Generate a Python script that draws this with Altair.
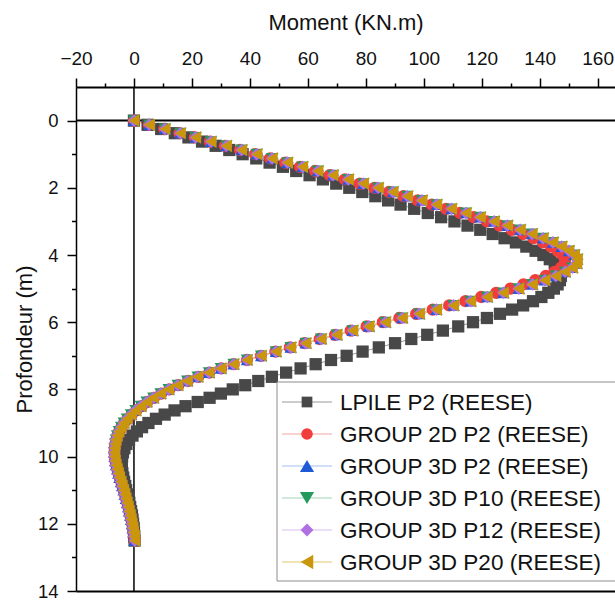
import altair as alt
import pandas as pd

FONT = "Liberation Sans"

# Depth (m) of each computed point along the pile
DEPTH = [
    0.0, 0.125, 0.25, 0.375, 0.5, 0.625, 0.75, 0.875,
    1.0, 1.125, 1.25, 1.375, 1.5, 1.625, 1.75, 1.875,
    2.0, 2.125, 2.25, 2.375, 2.5, 2.625, 2.75, 2.875,
    3.0, 3.125, 3.25, 3.375, 3.5, 3.625, 3.75, 3.875,
    4.0, 4.125, 4.25, 4.375, 4.5, 4.625, 4.75, 4.875,
    5.0, 5.125, 5.25, 5.375, 5.5, 5.625, 5.75, 5.875,
    6.0, 6.125, 6.25, 6.375, 6.5, 6.625, 6.75, 6.875,
    7.0, 7.125, 7.25, 7.375, 7.5, 7.625, 7.75, 7.875,
    8.0, 8.125, 8.25, 8.375, 8.5, 8.625, 8.75, 8.875,
    9.0, 9.125, 9.25, 9.375, 9.5, 9.625, 9.75, 9.875,
    10.0, 10.125, 10.25, 10.375, 10.5, 10.625, 10.75, 10.875,
    11.0, 11.125, 11.25, 11.375, 11.5, 11.625, 11.75, 11.875,
    12.0, 12.125, 12.25, 12.375, 12.5,
]

# Moment (KN.m)
LPILE_P2 = [
    0.0, 4.7, 9.4, 14.1, 18.8, 23.5, 28.2, 32.9,
    37.5, 42.2, 46.8, 51.4, 56.0, 60.6, 65.2, 69.8,
    74.3, 78.8, 83.3, 87.7, 92.0, 96.7, 101.4, 106.0,
    110.6, 115.1, 119.5, 123.8, 127.9, 131.8, 135.4, 138.6,
    141.3, 143.5, 145.2, 146.4, 147.1, 147.3, 147.0, 146.2,
    144.9, 143.0, 140.6, 137.7, 134.3, 130.5, 126.3, 121.8,
    117.0, 111.9, 106.6, 101.2, 95.7, 90.1, 84.5, 78.9,
    73.4, 68.0, 62.7, 57.5, 52.5, 47.6, 42.9, 38.4,
    34.1, 30.0, 26.1, 22.0, 17.8, 14.0, 10.6, 7.6,
    5.0, 2.8, 1.0, -0.5, -1.7, -2.6, -3.3, -3.8,
    -4.1, -4.3, -4.3, -4.2, -4.0, -3.7, -3.4, -3.0,
    -2.7, -2.3, -1.9, -1.6, -1.3, -1.0, -0.7, -0.5,
    -0.3, -0.1, 0.0, 0.1, 0.2,
]

GROUP2D_P2 = [
    0.0, 5.2, 10.5, 15.7, 21.0, 26.2, 31.4, 36.6,
    41.8, 47.0, 52.2, 57.3, 62.5, 67.6, 72.8, 77.9,
    83.0, 88.0, 93.0, 97.9, 102.8, 107.7, 112.5, 117.2,
    121.8, 126.2, 130.4, 134.3, 137.9, 141.1, 143.9, 146.2,
    147.9, 148.8, 148.7, 147.4, 145.1, 142.1, 138.5, 134.4,
    129.9, 125.0, 119.8, 114.4, 108.8, 103.1, 97.4, 91.6,
    85.9, 80.3, 74.8, 69.4, 64.1, 58.9, 53.8, 48.8,
    43.8, 39.0, 34.4, 30.1, 26.0, 22.2, 18.6, 15.3,
    12.2, 9.4, 6.9, 4.6, 2.6, 0.8, -0.8, -2.2,
    -3.4, -4.3, -5.1, -5.7, -6.1, -6.4, -6.6, -6.7,
    -6.6, -6.4, -6.1, -5.7, -5.3, -4.9, -4.4, -4.0,
    -3.5, -3.1, -2.7, -2.3, -1.9, -1.6, -1.2, -0.9,
    -0.6, -0.3, -0.1, 0.1, 0.3,
]

# GROUP 3D piles P2, P10, P12, P20 give practically the same curve
GROUP3D = [
    0.0, 5.3, 10.7, 16.0, 21.3, 26.6, 31.9, 37.2,
    42.4, 47.7, 53.0, 58.2, 63.5, 68.7, 74.0, 79.2,
    84.3, 89.4, 94.4, 99.4, 104.5, 109.6, 114.6, 119.5,
    124.3, 128.9, 133.3, 137.4, 141.2, 144.6, 147.6, 150.1,
    152.0, 153.0, 152.8, 151.3, 148.8, 145.6, 141.8, 137.5,
    132.8, 127.5, 121.9, 116.2, 110.3, 104.4, 98.5, 92.6,
    86.8, 81.1, 75.5, 70.0, 64.6, 59.3, 54.1, 49.0,
    43.9, 39.0, 34.4, 30.0, 25.9, 22.0, 18.4, 15.1,
    12.0, 9.2, 6.7, 4.4, 2.4, 0.6, -1.0, -2.4,
    -3.5, -4.4, -5.2, -5.8, -6.2, -6.5, -6.7, -6.8,
    -6.7, -6.5, -6.2, -5.8, -5.4, -5.0, -4.5, -4.1,
    -3.6, -3.2, -2.8, -2.4, -2.0, -1.7, -1.3, -1.0,
    -0.7, -0.4, -0.2, 0.1, 0.3,
]

SERIES = [
    "LPILE P2 (REESE)",
    "GROUP 2D P2 (REESE)",
    "GROUP 3D P2  (REESE)",
    "GROUP 3D P10 (REESE)",
    "GROUP 3D P12 (REESE)",
    "GROUP 3D P20 (REESE)",
]
VALUES = [LPILE_P2, GROUP2D_P2, GROUP3D, GROUP3D, GROUP3D, GROUP3D]
MARKER_COLORS = ["#484848", "#f23d3d", "#1f5ad6", "#24995c", "#b070e3", "#c9960c"]
LINE_COLORS = ["#9a9a9a", "#f5a3a3", "#a3bdf0", "#9fd4b6", "#d8bff2", "#e2c772"]
SHAPES = ["square", "circle", "triangle-up", "triangle-down", "diamond", "triangle-left"]
SIZES = [150, 160, 220, 220, 230, 300]
LEGEND_SIZES = [115, 135, 200, 200, 165, 210]

X_TICKS = [-20, 0, 20, 40, 60, 80, 100, 120, 140, 160]
X_MINOR = [-10, 10, 30, 50, 70, 90, 110, 130, 150]
Y_TICKS = [0, 2, 4, 6, 8, 10, 12, 14]
Y_MINOR = [1, 3, 5, 7, 9, 11, 13]

rows = []
for name, vals in zip(SERIES, VALUES):
    for d, m in zip(DEPTH, vals):
        rows.append({"series": name, "depth": d, "moment": m})
df = pd.DataFrame(rows)
zero_df = pd.DataFrame({"m": [0.0], "z": [0.0]})

xs = alt.Scale(domain=[-20, 166], nice=False, zero=False)
ys = alt.Scale(domain=[-1, 14], reverse=True, nice=False, zero=False)

x_major = alt.Axis(
    orient="top", values=X_TICKS, tickSize=9, tickWidth=1.5, tickColor="black",
    domainColor="black", domainWidth=2, labelFontSize=19, labelFont=FONT,
    labelColor="#111111", labelPadding=10, labelFlush=False, labelOverlap=False,
    title="Moment (KN.m)", titleFont=FONT, titleFontSize=22, titleFontWeight="normal",
    titleColor="#111111", titlePadding=15, grid=False,
)
x_minor = alt.Axis(
    orient="top", values=X_MINOR, tickSize=4, tickWidth=1.5, tickColor="black",
    labels=False, domain=False, title=None, grid=False,
)
x_bottom = alt.Axis(
    orient="bottom", ticks=False, labels=False, domain=True, domainColor="black",
    domainWidth=2, title=None, grid=False,
)
y_major = alt.Axis(
    orient="left", values=Y_TICKS, tickSize=9, tickWidth=1.5, tickColor="black",
    domainColor="black", domainWidth=1.5, labelFontSize=18.5, labelFont=FONT,
    labelColor="#111111", labelPadding=9, labelOverlap=False, labelFlush=False,
    title="Profondeur (m)", titleFont=FONT, titleFontSize=22, titleFontWeight="normal",
    titleColor="#111111", titlePadding=1, grid=False,
)
y_minor = alt.Axis(
    orient="left", values=Y_MINOR, tickSize=4.5, tickWidth=1.5, tickColor="black",
    labels=False, domain=False, title=None, grid=False,
)

hrule = alt.Chart(zero_df).mark_rule(color="black", strokeWidth=2).encode(
    y=alt.Y("z:Q", scale=ys, axis=None)
)
vrule = alt.Chart(zero_df).mark_rule(color="black", strokeWidth=1.5).encode(
    x=alt.X("m:Q", scale=xs, axis=x_bottom)
)

lines = alt.Chart(df).mark_line(strokeWidth=1).encode(
    x=alt.X("moment:Q", scale=xs, axis=x_major),
    y=alt.Y("depth:Q", scale=ys, axis=y_major),
    stroke=alt.Stroke("series:N", scale=alt.Scale(domain=SERIES, range=LINE_COLORS), legend=None),
    order=alt.Order("depth:Q"),
)

points = alt.Chart(df).mark_point(filled=True, opacity=1, strokeWidth=0).encode(
    x=alt.X("moment:Q", scale=xs, axis=x_minor),
    y=alt.Y("depth:Q", scale=ys, axis=y_minor),
    color=alt.Color("series:N", scale=alt.Scale(domain=SERIES, range=MARKER_COLORS), legend=None),
    shape=alt.Shape("series:N", scale=alt.Scale(domain=SERIES, range=SHAPES), legend=None),
    size=alt.Size("series:N", scale=alt.Scale(domain=SERIES, range=SIZES), legend=None),
)

# manual legend (box, line + marker, label)
legend_layers = [
    alt.Chart(zero_df).mark_rect(fill="white", stroke="#8c8c8c", strokeWidth=1).encode(
        x=alt.value(201), x2=alt.value(570), y=alt.value(295), y2=alt.value(494)
    )
]
for i, name in enumerate(SERIES):
    yy = 315 + i * 32
    legend_layers.append(
        alt.Chart(zero_df).mark_rule(color=LINE_COLORS[i], strokeWidth=1.2).encode(
            x=alt.value(206), x2=alt.value(256), y=alt.value(yy)
        )
    )
    legend_layers.append(
        alt.Chart(zero_df).mark_point(
            shape=SHAPES[i], filled=True, color=MARKER_COLORS[i], size=LEGEND_SIZES[i], opacity=1, strokeWidth=0
        ).encode(x=alt.value(231), y=alt.value(yy))
    )
    legend_layers.append(
        alt.Chart(zero_df).mark_text(
            text=name, align="left", baseline="middle", font=FONT, fontSize=22.5, color="#111111"
        ).encode(x=alt.value(264), y=alt.value(yy + 1))
    )

chart = (
    alt.layer(hrule, vrule, lines, points, *legend_layers)
    .resolve_axis(x="independent", y="independent")
    .properties(
        width=539,
        height=504,
        padding={"left": 76, "top": 87, "right": 0, "bottom": 9},
        autosize=alt.AutoSizeParams(type="none"),
        background="white",
    )
    .configure_view(stroke=None)
)

chart.save("out.html", embed_options={"renderer": "svg", "actions": False})
